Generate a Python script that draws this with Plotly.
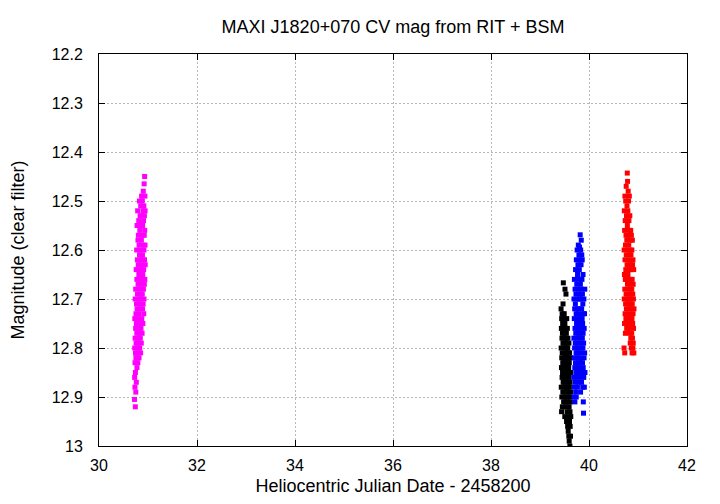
import plotly.graph_objects as go

TITLE = "MAXI J1820+070 CV mag from RIT + BSM"
X_TITLE = "Heliocentric Julian Date - 2458200"
Y_TITLE = "Magnitude (clear filter)"
X_TICKS = [30, 32, 34, 36, 38, 40, 42]
Y_TICKS = [12.2, 12.3, 12.4, 12.5, 12.6, 12.7, 12.8, 12.9, 13.0]
Y_TICK_LABELS = ["12.2", "12.3", "12.4", "12.5", "12.6", "12.7", "12.8", "12.9", "13"]

magenta_x = [
    30.725, 30.727, 30.729, 30.731, 30.733, 30.735, 30.737, 30.739, 30.741, 30.743,
    30.745, 30.747, 30.749, 30.751, 30.753, 30.755, 30.757, 30.759, 30.761, 30.763,
    30.765, 30.767, 30.769, 30.771, 30.773, 30.775, 30.777, 30.779, 30.781, 30.783,
    30.785, 30.787, 30.789, 30.791, 30.793, 30.795, 30.797, 30.799, 30.801, 30.803,
    30.805, 30.807, 30.809, 30.811, 30.813, 30.815, 30.817, 30.819, 30.821, 30.823,
    30.825, 30.827, 30.829, 30.831, 30.833, 30.835, 30.837, 30.839, 30.841, 30.843,
    30.845, 30.847, 30.849, 30.851, 30.853, 30.855, 30.857, 30.859, 30.861, 30.863,
    30.865, 30.867, 30.869, 30.871, 30.873, 30.875, 30.877, 30.879, 30.881, 30.883,
    30.885, 30.887, 30.889, 30.891, 30.893, 30.895, 30.897, 30.899, 30.901, 30.903,
    30.905, 30.907, 30.909, 30.911, 30.913, 30.915, 30.917, 30.919, 30.921, 30.923,
    30.925, 30.927, 30.929, 30.931, 30.933, 30.935, 30.937, 30.939, 30.941, 30.943,
]
magenta_y = [
    12.905, 12.86, 12.80, 12.74, 12.88, 12.83, 12.78, 12.70, 12.92, 12.85,
    12.81, 12.76, 12.68, 12.89, 12.82, 12.73, 12.79, 12.64, 12.87, 12.75,
    12.71, 12.82, 12.60, 12.77, 12.66, 12.84, 12.55, 12.72, 12.80, 12.62,
    12.69, 12.78, 12.52, 12.74, 12.83, 12.58, 12.67, 12.76, 12.63, 12.81,
    12.57, 12.70, 12.79, 12.54, 12.65, 12.73, 12.82, 12.59, 12.68, 12.77,
    12.50, 12.61, 12.71, 12.80, 12.56, 12.66, 12.75, 12.53, 12.64, 12.78,
    12.60, 12.69, 12.81, 12.51, 12.72, 12.62, 12.76, 12.55, 12.67, 12.79,
    12.58, 12.70, 12.49, 12.63, 12.74, 12.53, 12.66, 12.77, 12.57, 12.69,
    12.50, 12.61, 12.72, 12.55, 12.65, 12.75, 12.52, 12.62, 12.71, 12.48,
    12.59, 12.68, 12.54, 12.64, 12.73, 12.51, 12.60, 12.70, 12.465, 12.57,
    12.67, 12.53, 12.62, 12.45, 12.56, 12.66, 12.49, 12.59, 12.52, 12.63,
]

black_x = [
    39.430, 39.432, 39.434, 39.436, 39.438, 39.440, 39.442, 39.444, 39.446, 39.448,
    39.450, 39.452, 39.454, 39.456, 39.458, 39.460, 39.462, 39.464, 39.466, 39.468,
    39.470, 39.472, 39.474, 39.476, 39.478, 39.480, 39.482, 39.484, 39.486, 39.488,
    39.490, 39.492, 39.494, 39.496, 39.498, 39.500, 39.502, 39.504, 39.506, 39.508,
    39.510, 39.512, 39.514, 39.516, 39.518, 39.520, 39.522, 39.524, 39.526, 39.528,
    39.530, 39.532, 39.534, 39.536, 39.538, 39.540, 39.542, 39.544, 39.546, 39.548,
    39.550, 39.552, 39.554, 39.556, 39.558, 39.560, 39.562, 39.564, 39.566, 39.568,
    39.570, 39.572, 39.574, 39.576, 39.578, 39.580, 39.582, 39.584, 39.586, 39.588,
    39.590, 39.592, 39.594, 39.596, 39.598, 39.600, 39.602, 39.604, 39.606, 39.608,
    39.610, 39.612, 39.614, 39.616, 39.618, 39.620, 39.622, 39.624, 39.626, 39.628,
]
black_y = [
    12.72, 12.80, 12.88, 12.76, 12.84, 12.93, 12.74, 12.82, 12.90, 12.78,
    12.86, 12.73, 12.81, 12.92, 12.77, 12.85, 12.75, 12.83, 12.89, 12.79,
    12.71, 12.87, 12.80, 12.667, 12.84, 12.76, 12.91, 12.82, 12.74, 12.88,
    12.78, 12.86, 12.73, 12.83, 12.90, 12.77, 12.85, 12.81, 12.94, 12.75,
    12.68, 12.87, 12.79, 12.84, 12.92, 12.76, 12.82, 12.89, 12.78, 12.86,
    12.69, 12.80, 12.91, 12.83, 12.77, 12.88, 12.95, 12.81, 12.74, 12.86,
    12.79, 12.93, 12.84, 12.90, 12.76, 12.82, 12.88, 12.96, 12.80, 12.85,
    12.78, 12.91, 12.83, 12.97, 12.87, 12.81, 12.94, 12.89, 12.84, 12.98,
    12.79, 12.86, 12.92, 12.99, 12.83, 12.88, 12.95, 12.81, 12.90, 12.85,
    13.00, 12.93, 12.87, 12.96, 12.82, 12.91, 12.98, 12.89, 12.85, 12.94,
]

blue_x = [
    39.690, 39.692, 39.694, 39.696, 39.698, 39.700, 39.702, 39.704, 39.706, 39.708,
    39.710, 39.712, 39.714, 39.716, 39.718, 39.720, 39.722, 39.724, 39.726, 39.728,
    39.730, 39.732, 39.734, 39.736, 39.738, 39.740, 39.742, 39.744, 39.746, 39.748,
    39.750, 39.752, 39.754, 39.756, 39.758, 39.760, 39.762, 39.764, 39.766, 39.768,
    39.770, 39.772, 39.774, 39.776, 39.778, 39.780, 39.782, 39.784, 39.786, 39.788,
    39.790, 39.792, 39.794, 39.796, 39.798, 39.800, 39.802, 39.804, 39.806, 39.808,
    39.810, 39.812, 39.814, 39.816, 39.818, 39.820, 39.822, 39.824, 39.826, 39.828,
    39.830, 39.832, 39.834, 39.836, 39.838, 39.840, 39.842, 39.844, 39.846, 39.848,
    39.850, 39.852, 39.854, 39.856, 39.858, 39.860, 39.862, 39.864, 39.866, 39.868,
    39.870, 39.872, 39.874, 39.876, 39.878, 39.880, 39.882, 39.884, 39.886, 39.888,
    39.890, 39.893, 39.896, 39.899, 39.902, 39.905, 39.908, 39.911, 39.914, 39.917,
]
blue_y = [
    12.86, 12.78, 12.70, 12.90, 12.82, 12.74, 12.66, 12.88, 12.80, 12.72,
    12.84, 12.91, 12.76, 12.68, 12.87, 12.79, 12.71, 12.83, 12.64, 12.89,
    12.77, 12.85, 12.69, 12.81, 12.73, 12.90, 12.62, 12.80, 12.75, 12.86,
    12.67, 12.78, 12.84, 12.70, 12.60, 12.82, 12.74, 12.88, 12.65, 12.79,
    12.72, 12.85, 12.63, 12.76, 12.81, 12.68, 12.59, 12.83, 12.73, 12.87,
    12.66, 12.77, 12.61, 12.80, 12.70, 12.84, 12.64, 12.75, 12.594, 12.82,
    12.69, 12.78, 12.62, 12.86, 12.72, 12.569, 12.80, 12.67, 12.74, 12.89,
    12.60, 12.77, 12.70, 12.83, 12.63, 12.76, 12.58, 12.81, 12.68, 12.87,
    12.72, 12.61, 12.79, 12.66, 12.85, 12.74, 12.62, 12.78, 12.69, 12.83,
    12.75, 12.88, 12.71, 12.80, 12.65, 12.77, 12.84, 12.91, 12.73, 12.933,
    12.79, 12.86, 12.70, 12.82, 12.76, 12.88, 12.73, 12.81, 12.68, 12.85,
]

red_x = [
    40.715, 40.717, 40.719, 40.721, 40.723, 40.725, 40.727, 40.729, 40.731, 40.733,
    40.735, 40.737, 40.739, 40.741, 40.743, 40.745, 40.747, 40.749, 40.751, 40.753,
    40.755, 40.757, 40.759, 40.761, 40.763, 40.765, 40.767, 40.769, 40.771, 40.773,
    40.775, 40.777, 40.779, 40.781, 40.783, 40.785, 40.787, 40.789, 40.791, 40.793,
    40.795, 40.797, 40.799, 40.801, 40.803, 40.805, 40.807, 40.809, 40.811, 40.813,
    40.815, 40.817, 40.819, 40.821, 40.823, 40.825, 40.827, 40.829, 40.831, 40.833,
    40.835, 40.837, 40.839, 40.841, 40.843, 40.845, 40.847, 40.849, 40.851, 40.853,
    40.855, 40.857, 40.859, 40.861, 40.863, 40.865, 40.867, 40.869, 40.871, 40.873,
    40.875, 40.877, 40.879, 40.881, 40.883, 40.885, 40.887, 40.889, 40.891, 40.893,
    40.895, 40.897, 40.899, 40.901, 40.903, 40.906, 40.909, 40.912, 40.915, 40.918,
]
red_y = [
    12.80, 12.60, 12.70, 12.52, 12.65, 12.75, 12.56, 12.81, 12.68, 12.49,
    12.62, 12.73, 12.54, 12.66, 12.77, 12.59, 12.71, 12.50, 12.64, 12.74,
    12.57, 12.69, 12.47, 12.61, 12.72, 12.53, 12.66, 12.76, 12.58, 12.70,
    12.51, 12.63, 12.74, 12.443, 12.55, 12.67, 12.46, 12.60, 12.71, 12.52,
    12.65, 12.75, 12.48, 12.57, 12.69, 12.62, 12.50, 12.73, 12.59, 12.66,
    12.54, 12.76, 12.61, 12.68, 12.49, 12.72, 12.56, 12.64, 12.77, 12.53,
    12.70, 12.60, 12.67, 12.79, 12.58, 12.74, 12.63, 12.71, 12.56, 12.78,
    12.66, 12.61, 12.75, 12.69, 12.80, 12.57, 12.72, 12.64, 12.77, 12.68,
    12.60, 12.74, 12.81, 12.66, 12.71, 12.58, 12.78, 12.63, 12.75, 12.69,
    12.80, 12.62, 12.73, 12.67, 12.79, 12.70, 12.76, 12.64, 12.81, 12.72,
]

series = [
    (magenta_x, magenta_y, "#ff00ff"),
    (black_x, black_y, "#000000"),
    (blue_x, blue_y, "#0000ff"),
    (red_x, red_y, "#ff0000"),
]

FONT = "Liberation Sans, Arial, Helvetica, sans-serif"

fig = go.Figure()
for xs, ys, col in series:
    fig.add_trace(go.Scatter(
        x=xs, y=ys, mode="markers",
        marker=dict(symbol="square", size=5, color=col, line=dict(width=0)),
        showlegend=False,
    ))

axis_common = dict(
    showline=True, linecolor="black", linewidth=1, mirror="ticks",
    ticks="inside", ticklen=6, tickcolor="black", tickwidth=1,
    showgrid=True, gridcolor="#b8b8b8", griddash="2px,2px", gridwidth=1,
    zeroline=False, automargin=False,
    tickfont=dict(family=FONT, size=16, color="black"),
)

# The page body has an 8 px margin, so the figure is offset by 8 px.
fig.update_layout(
    width=720, height=504,
    paper_bgcolor="white", plot_bgcolor="white",
    margin=dict(l=91, r=41, t=46, b=66),
    title=dict(text=TITLE, x=385 / 720, xanchor="center",
               y=1 - 19 / 504, yanchor="middle",
               font=dict(family=FONT, size=18, color="black")),
    xaxis=dict(range=[30, 42], tickvals=X_TICKS, ticktext=[str(v) for v in X_TICKS],
               ticklabelstandoff=5,
               title=dict(text=X_TITLE, font=dict(family=FONT, size=18, color="black"), standoff=6),
               **axis_common),
    yaxis=dict(range=[13.0, 12.2], tickvals=Y_TICKS, ticktext=Y_TICK_LABELS,
               title=dict(text=Y_TITLE, font=dict(family=FONT, size=18, color="black"), standoff=30),
               ticklabelstandoff=12,
               **axis_common),
)

fig.write_html("out.html")
